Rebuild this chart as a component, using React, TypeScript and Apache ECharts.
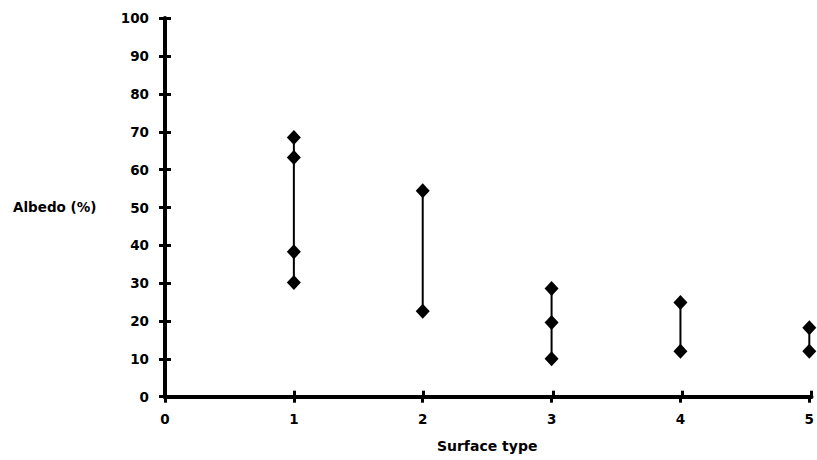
import React, { useEffect, useRef } from "react";
import * as echarts from "echarts";

// Surface type categories (x positions)
const surfaceTypes = [1, 2, 3, 4, 5];

// Albedo (%) readings for each surface type, top to bottom
const type1Albedo = [68.5, 63.2, 38.3, 30.2];
const type2Albedo = [54.4, 22.6];
const type3Albedo = [28.6, 19.6, 10];
const type4Albedo = [24.9, 12];
const type5Albedo = [18.2, 12];

const xTicks = [0, 1, 2, 3, 4, 5];
const yTicks = [0, 10, 20, 30, 40, 50, 60, 70, 80, 90, 100];

const yLabel = "Albedo (%)";
const xLabel = "Surface type";

const FONT = "DejaVu Sans";

export default function App() {
  const ref = useRef<HTMLDivElement>(null);

  useEffect(() => {
    if (!ref.current) return;
    const chart = echarts.init(ref.current, undefined, { renderer: "svg" });

    const groups = [type1Albedo, type2Albedo, type3Albedo, type4Albedo, type5Albedo];
    const series: any[] = groups.map((vals, i) => ({
      type: "line",
      xAxisIndex: 0,
      yAxisIndex: 0,
      data: vals.map((v) => [surfaceTypes[i], v]),
      symbol: "diamond",
      symbolSize: [14, 15],
      showSymbol: true,
      lineStyle: { color: "#000", width: 2 },
      itemStyle: { color: "#000" },
      clip: false,
      silent: true,
      z: 3,
    }));
    // empty series bound to the second grid so its axes are laid out
    series.push({
      type: "scatter",
      xAxisIndex: 1,
      yAxisIndex: 1,
      data: [],
      silent: true,
    });

    const grid = { left: 165, right: 5.5, top: 18.3, bottom: 63.3, containLabel: false };
    const tickStyle = { color: "#000", width: 3 };
    const lineStyle = { color: "#000", width: 4 };

    chart.setOption({
      animation: false,
      backgroundColor: "#fff",
      grid: [grid, { ...grid }],
      xAxis: [
        {
          type: "value",
          gridIndex: 0,
          min: xTicks[0],
          max: xTicks[xTicks.length - 1],
          interval: 1,
          splitLine: { show: false },
          axisLine: { show: true, onZero: false, lineStyle },
          axisTick: { show: true, inside: false, length: 6, lineStyle: tickStyle },
          axisLabel: {
            show: true,
            margin: 15,
            color: "#000",
            fontFamily: FONT,
            fontWeight: "bold",
            fontSize: 13.5,
            showMaxLabel: true,
          },
          name: xLabel,
          nameLocation: "middle",
          nameGap: 42,
          nameTextStyle: { color: "#000", fontFamily: FONT, fontWeight: "bold", fontSize: 14 },
        },
        {
          type: "value",
          gridIndex: 1,
          position: "bottom",
          min: xTicks[0],
          max: xTicks[xTicks.length - 1],
          interval: 1,
          splitLine: { show: false },
          axisLine: { show: true, onZero: false, lineStyle },
          axisTick: { show: true, inside: true, length: 6, lineStyle: tickStyle },
          axisLabel: { show: false },
        },
      ],
      yAxis: [
        {
          type: "value",
          gridIndex: 0,
          min: yTicks[0],
          max: yTicks[yTicks.length - 1],
          interval: 10,
          splitLine: { show: false },
          axisLine: { show: true, onZero: false, lineStyle },
          axisTick: { show: true, inside: false, length: 6, lineStyle: tickStyle },
          axisLabel: {
            show: true,
            margin: 16,
            color: "#000",
            fontFamily: FONT,
            fontWeight: "bold",
            fontSize: 13.5,
          },
        },
        {
          type: "value",
          gridIndex: 1,
          position: "left",
          min: yTicks[0],
          max: yTicks[yTicks.length - 1],
          interval: 10,
          splitLine: { show: false },
          axisLine: { show: true, onZero: false, lineStyle },
          axisTick: { show: true, inside: true, length: 6, lineStyle: tickStyle },
          axisLabel: { show: false },
        },
      ],
      graphic: [
        {
          type: "text",
          x: 13,
          y: 207,
          style: {
            text: yLabel,
            fill: "#000",
            font: `bold 13.5px "${FONT}"`,
            verticalAlign: "middle",
            align: "left",
          },
        },
      ],
      series,
    });

    return () => chart.dispose();
  }, []);

  return (
    <div
      ref={ref}
      style={{ position: "fixed", left: 0, top: 0, width: 817, height: 460, background: "#fff" }}
    />
  );
}
